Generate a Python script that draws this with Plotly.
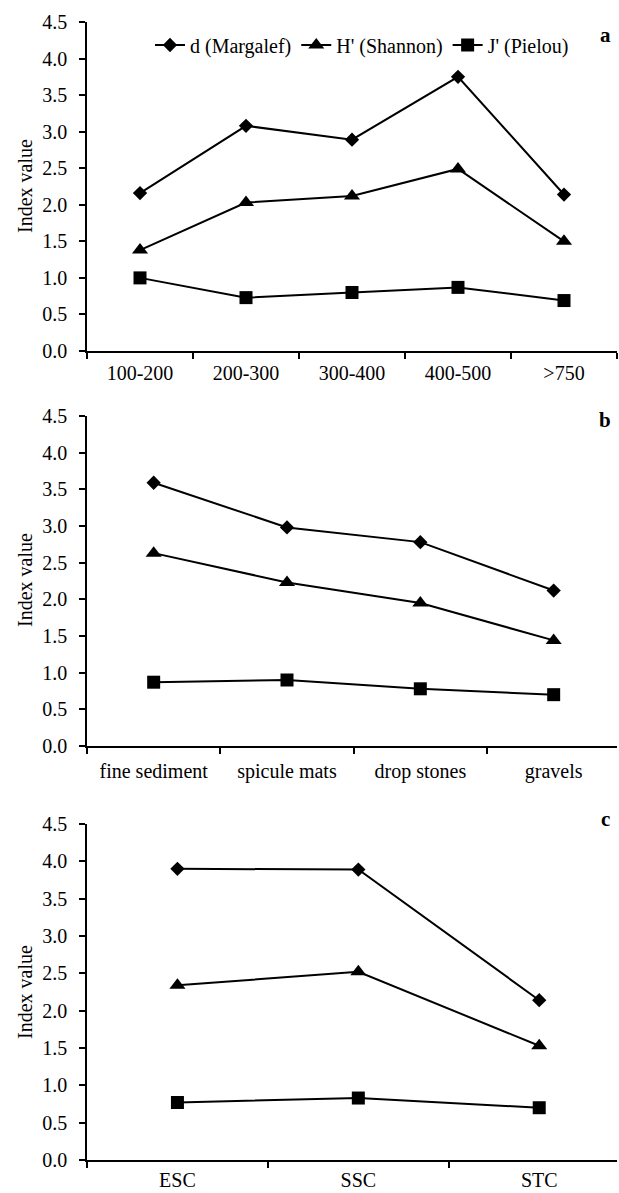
import plotly.graph_objects as go

# ---- data ----
depth_cats = ["100-200", "200-300", "300-400", "400-500", ">750"]
depth_d = [2.16, 3.08, 2.89, 3.75, 2.14]
depth_h = [1.38, 2.03, 2.12, 2.49, 1.50]
depth_j = [1.00, 0.73, 0.80, 0.87, 0.69]

sub_cats = ["fine sediment", "spicule mats", "drop stones", "gravels"]
sub_d = [3.59, 2.98, 2.78, 2.12]
sub_h = [2.63, 2.23, 1.95, 1.44]
sub_j = [0.87, 0.90, 0.78, 0.70]

reg_cats = ["ESC", "SSC", "STC"]
reg_d = [3.90, 3.89, 2.14]
reg_h = [2.34, 2.52, 1.53]
reg_j = [0.77, 0.83, 0.70]

series_names = ["d (Margalef)", "H' (Shannon)", "J' (Pielou)"]
y_ticks = [0.0, 0.5, 1.0, 1.5, 2.0, 2.5, 3.0, 3.5, 4.0, 4.5]
panel_letters = ["a", "b", "c"]
y_title = "Index value"

FONT = "Liberation Serif, Times New Roman, serif"
W, H = 619, 1193
L_M, R_M, T_M, B_M = 87, 2, 22, 33

fig = go.Figure()

marker_styles = [
    dict(symbol="diamond", size=11),
    dict(symbol="triangle-up", size=14),
    dict(symbol="square", size=13),
]

panels = [
    (depth_cats, [depth_d, depth_h, depth_j]),
    (sub_cats, [sub_d, sub_h, sub_j]),
    (reg_cats, [reg_d, reg_h, reg_j]),
]

ph = H - T_M - B_M
pw = W - L_M - R_M
def dom(top_px, bot_px):
    return [1 - (bot_px - T_M) / ph, 1 - (top_px - T_M) / ph]
def py(px):
    return 1 - (px - T_M) / ph
def pxx(px):
    return (px - L_M) / pw

domains = [dom(22, 351), dom(416, 746), dom(824, 1160)]
xranges = [[-0.5, 4.5], [-0.5, 3.475], [-0.5, 2.43]]
xlabel_standoff = [3, 6, 1]

for i, (cats, vals) in enumerate(panels):
    xa = "x" if i == 0 else f"x{i+1}"
    ya = "y" if i == 0 else f"y{i+1}"
    for k, v in enumerate(vals):
        fig.add_trace(go.Scatter(
            x=cats, y=v, mode="lines+markers", name=series_names[k],
            line=dict(color="black", width=2),
            marker=dict(color="black", **marker_styles[k]),
            xaxis=xa, yaxis=ya, showlegend=(i == 0),
        ))

layout = dict(
    width=W, height=H,
    margin=dict(l=L_M, r=R_M, t=T_M, b=B_M, autoexpand=False),
    paper_bgcolor="white", plot_bgcolor="white",
    font=dict(family=FONT, size=20, color="black"),
    legend=dict(orientation="h", x=pxx(150), y=py(45), xanchor="left", yanchor="middle",
                font=dict(size=20), itemwidth=30, bgcolor="rgba(0,0,0,0)",
                tracegroupgap=0),
)

for i in range(3):
    xk = "xaxis" if i == 0 else f"xaxis{i+1}"
    yk = "yaxis" if i == 0 else f"yaxis{i+1}"
    ya = "y" if i == 0 else f"y{i+1}"
    xa = "x" if i == 0 else f"x{i+1}"
    layout[xk] = dict(
        domain=[0, 1], anchor=ya, type="category", range=xranges[i],
        showline=True, linecolor="black", linewidth=1.5, showgrid=False,
        ticks="outside", ticklen=6, tickcolor="black", tickwidth=1.5,
        tickson="boundaries", tickfont=dict(size=20), zeroline=False,
        ticklabelstandoff=xlabel_standoff[i], automargin=False,
    )
    layout[yk] = dict(
        domain=domains[i], anchor=xa, range=[0, 4.5],
        tickvals=y_ticks, ticktext=[f"{v:.1f}" for v in y_ticks],
        showline=True, linecolor="black", linewidth=1.5, showgrid=False,
        ticks="outside", ticklen=6, tickcolor="black", tickwidth=1.5,
        zeroline=False, tickfont=dict(size=20), ticklabelstandoff=8,
        automargin=False,
    )

fig.update_layout(**layout)

title_y = [186, 580, 992]
for i in range(3):
    fig.add_annotation(
        text=y_title, xref="paper", yref="paper", x=pxx(25), y=py(title_y[i]),
        textangle=-90, showarrow=False, font=dict(size=20, family=FONT, color="black"),
        xanchor="center", yanchor="middle",
    )

letter_y = [35, 420, 819]
for i, L in enumerate(panel_letters):
    fig.add_annotation(
        text=f"<b>{L}</b>", xref="paper", yref="paper",
        x=pxx(605), y=py(letter_y[i]),
        showarrow=False, font=dict(size=21, family=FONT, color="black"),
        xanchor="center", yanchor="middle",
    )

fig.write_html(
    "out.html",
    config={"displayModeBar": False},
    post_script="document.body.style.margin='0';document.body.style.overflow='hidden';",
)
